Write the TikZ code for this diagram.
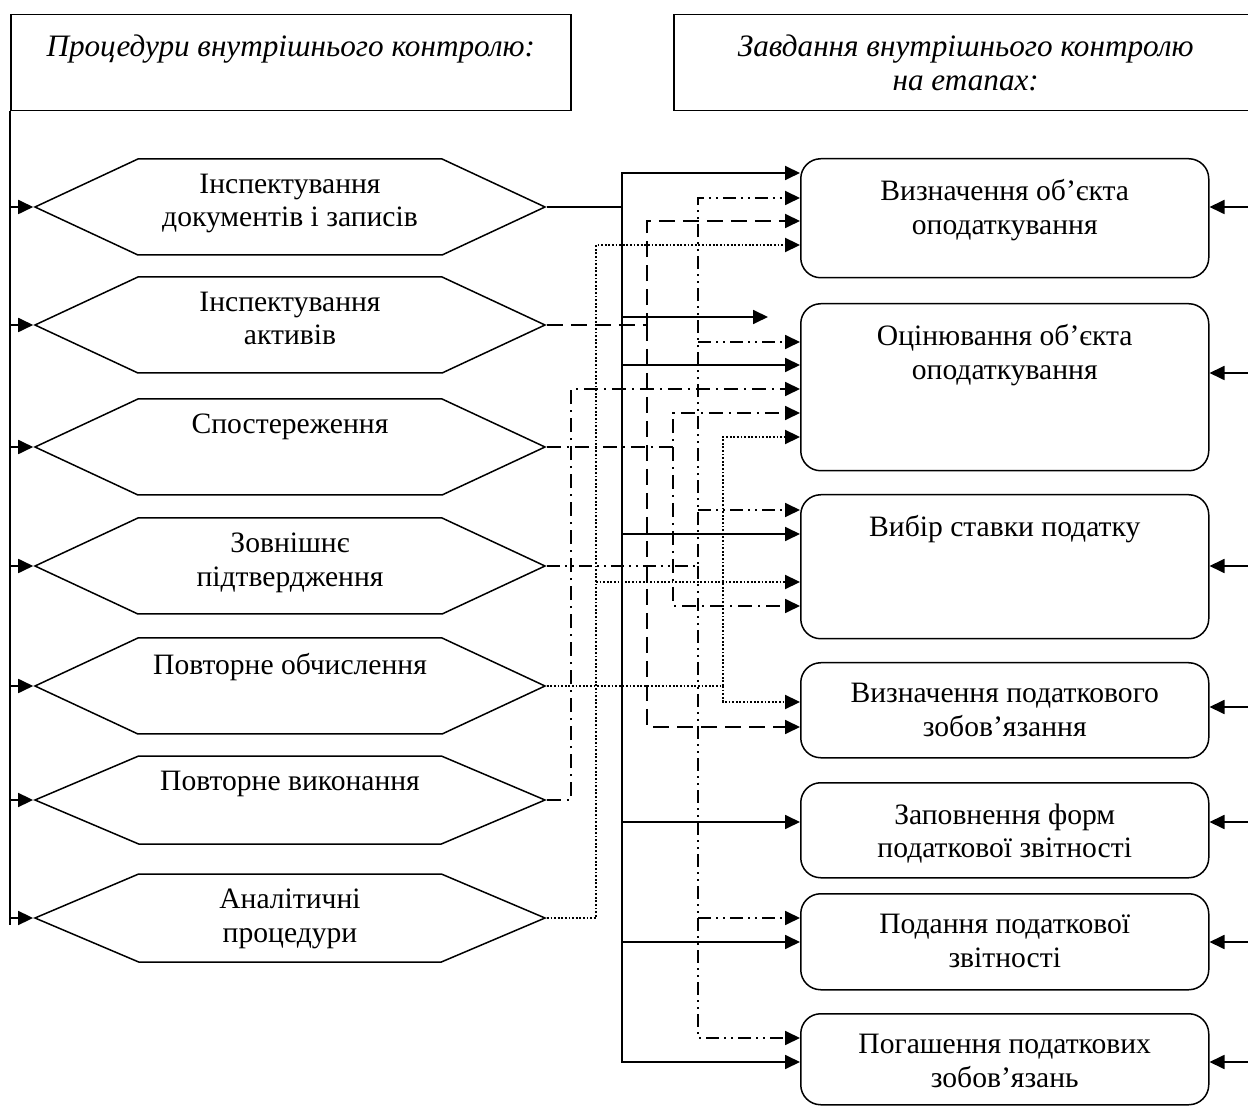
\documentclass[tikz,border=0pt]{standalone}
\usepackage{fontspec}
\setmainfont{Liberation Serif}
\usetikzlibrary{arrows.meta, shapes.symbols}

\begin{document}
\begin{tikzpicture}[
    x=0.5pt, y=-0.5pt, % one unit = one pixel of the reference, y grows downwards
    >={Triangle[length=7.5pt, width=7pt]}, % default arrow tip
    txt/.style={font=\fontsize{14.8}{16.8}\selectfont, align=center, inner sep=0pt},
    top text/.style 2 args={label={[txt, anchor=north, yshift=#1]north:{#2}}},
    head text/.style={label={[txt, font=\fontsize{15.6}{16.8}\selectfont\itshape, anchor=north, yshift=-10.4pt]north:{#1}}},
    head/.style={draw, line width=0.75pt, minimum height=48pt, inner sep=0pt, anchor=north west},
    proc/.style={signal, signal to=west and east, signal pointer angle=50, draw, line width=0.75pt,
        minimum width=255pt, minimum height=48pt, inner sep=0pt}, % hexagon of a procedure
    task/.style={draw, rounded corners=10pt, line width=0.75pt, minimum width=204pt,
        inner sep=0pt, anchor=north west}, % box of a task
    link/.style={line width=0.9pt},
    dashlink/.style={link, dash pattern=on 8pt off 4pt},
    dotlink/.style={line width=1.1pt, dash pattern=on 0.9pt off 0.9pt},
    dashdotlink/.style={link, dash pattern=on 7pt off 3pt on 1pt off 3pt},
    dashdotdotlink/.style={link, dash pattern=on 6.5pt off 2.5pt on 1pt off 2.5pt on 1pt off 2.5pt}
]
    \useasboundingbox (0,0) rectangle (1248,1106);
    \clip (0,0) rectangle (1248,1106);

    % Headers
    \node[head, minimum width=280pt, head text={Процедури внутрішнього контролю:}] (hdrL) at (10,14) {};
    \node[head, minimum width=292pt, head text={Завдання внутрішнього контролю\\на етапах:}] (hdrR) at (673,14) {};

    % Procedures (left column)
    \node[proc, top text={-7.6pt}{Інспектування\\документів і записів}] (h1) at (290,207) {};
    \node[proc, top text={-7.6pt}{Інспектування\\активів}] (h2) at (290,325) {};
    \node[proc, top text={-7.6pt}{Спостереження}] (h3) at (290,447) {};
    \node[proc, top text={-7.6pt}{Зовнішнє\\підтвердження}] (h4) at (290,566) {};
    \node[proc, top text={-7.6pt}{Повторне обчислення}] (h5) at (290,686) {};
    \node[proc, minimum height=44pt, signal pointer angle=46, top text={-7.6pt}{Повторне виконання}] (h6) at (290,800) {};
    \node[proc, minimum height=44pt, signal pointer angle=46, top text={-7.6pt}{Аналітичні\\процедури}] (h7) at (290,918) {};

    % Tasks (right column)
    \node[task, minimum height=59.5pt, top text={-10.6pt}{Визначення об’єкта\\оподаткування}] (b1) at (800,158) {};
    \node[task, minimum height=83.5pt, top text={-10.6pt}{Оцінювання об’єкта\\оподаткування}] (b2) at (800,303) {};
    \node[task, minimum height=72pt, top text={-10.6pt}{Вибір ставки податку}] (b3) at (800,494) {};
    \node[task, minimum height=47.5pt, top text={-10.6pt}{Визначення податкового\\зобов’язання}] (b4) at (800,662) {};
    \node[task, minimum height=47.5pt, top text={-10.6pt}{Заповнення форм\\податкової звітності}] (b5) at (800,782) {};
    \node[task, minimum height=48pt, top text={-10.6pt}{Подання податкової\\звітності}] (b6) at (800,893) {};
    \node[task, minimum height=45.5pt, top text={-10.6pt}{Погашення податкових\\зобов’язань}] (b7) at (800,1013) {};

    % Vertical buses, one per procedure
    \coordinate (bus1) at (622,0); % solid
    \coordinate (bus2) at (647,0); % dashed
    \coordinate (bus3) at (673,0); % dash dot
    \coordinate (bus4) at (698,0); % dash dot dot
    \coordinate (bus5) at (723,0); % dotted
    \coordinate (bus6) at (571,0); % dash dot
    \coordinate (bus7) at (596,0); % dotted
    \coordinate (stub) at (768,317); % arrow that stops short of a box
    \coordinate (rim) at (1248,0);  % right edge of the picture

    % Left feed line into the procedures
    \draw[link] (hdrL.south west) -- (hdrL.south west |- 0,925);
    \draw[link, ->] (hdrL.south west |- h1.west) -- (h1.west);
    \draw[link, ->] (hdrL.south west |- h2.west) -- (h2.west);
    \draw[link, ->] (hdrL.south west |- h3.west) -- (h3.west);
    \draw[link, ->] (hdrL.south west |- h4.west) -- (h4.west);
    \draw[link, ->] (hdrL.south west |- h5.west) -- (h5.west);
    \draw[link, ->] (hdrL.south west |- h6.west) -- (h6.west);
    \draw[link, ->] (hdrL.south west |- h7.west) -- (h7.west);

    % Arrows from the right edge
    \draw[link, ->] (rim |- 0,207) -- (b1.east |- 0,207);
    \draw[link, ->] (rim |- 0,373) -- (b2.east |- 0,373);
    \draw[link, ->] (rim |- 0,566) -- (b3.east |- 0,566);
    \draw[link, ->] (rim |- 0,707) -- (b4.east |- 0,707);
    \draw[link, ->] (rim |- 0,822) -- (b5.east |- 0,822);
    \draw[link, ->] (rim |- 0,942) -- (b6.east |- 0,942);
    \draw[link, ->] (rim |- 0,1062) -- (b7.east |- 0,1062);

    % Documents and records (solid)
    \draw[link, ->] (h1.east) -| (bus1 |- 0,173) -- (b1.west |- 0,173);
    \draw[link, ->] (h1.east -| bus1) -- (bus1 |- 0,1062) -- (b7.west |- 0,1062);
    \draw[link, ->] (bus1 |- 0,317) -- (stub);
    \draw[link, ->] (bus1 |- 0,365) -- (b2.west |- 0,365);
    \draw[link, ->] (bus1 |- 0,534) -- (b3.west |- 0,534);
    \draw[link, ->] (bus1 |- 0,822) -- (b5.west |- 0,822);
    \draw[link, ->] (bus1 |- 0,942) -- (b6.west |- 0,942);

    % Assets (dashed)
    \draw[dashlink, ->] (h2.east) -| (bus2 |- 0,221) -- (b1.west |- 0,221);
    \draw[dashlink, ->] (h2.east -| bus2) -- (bus2 |- 0,727) -- (b4.west |- 0,727);

    % Observation (dash dot)
    \draw[dashdotlink, ->] (h3.east) -| (bus3 |- 0,413) -- (b2.west |- 0,413);
    \draw[dashdotlink, ->] (h3.east -| bus3) -- (bus3 |- 0,606) -- (b3.west |- 0,606);

    % External confirmation (dash dot dot)
    \draw[dashdotdotlink, ->] (h4.east) -| (bus4 |- 0,198) -- (b1.west |- 0,198);
    \draw[dashdotdotlink, ->] (bus4 |- 0,342) -- (b2.west |- 0,342);
    \draw[dashdotdotlink, ->] (bus4 |- 0,510) -- (b3.west |- 0,510);
    \draw[dashdotdotlink, ->] (h4.east -| bus4) -- (bus4 |- 0,1038) -- (b7.west |- 0,1038);
    \draw[dashdotdotlink, ->] (bus4 |- 0,918) -- (b6.west |- 0,918);

    % Recalculation (dotted)
    \draw[dotlink, ->] (h5.east) -| (bus5 |- 0,437) -- (b2.west |- 0,437);
    \draw[dotlink, ->] (h5.east -| bus5) -- (bus5 |- 0,702) -- (b4.west |- 0,702);

    % Reperformance (dash dot)
    \draw[dashdotlink, ->] (h6.east) -| (bus6 |- 0,389) -- (b2.west |- 0,389);

    % Analytical procedures (dotted)
    \draw[dotlink, ->] (h7.east) -| (bus7 |- 0,245) -- (b1.west |- 0,245);
    \draw[dotlink, ->] (bus7 |- 0,582) -- (b3.west |- 0,582);

\end{tikzpicture}
\end{document}
